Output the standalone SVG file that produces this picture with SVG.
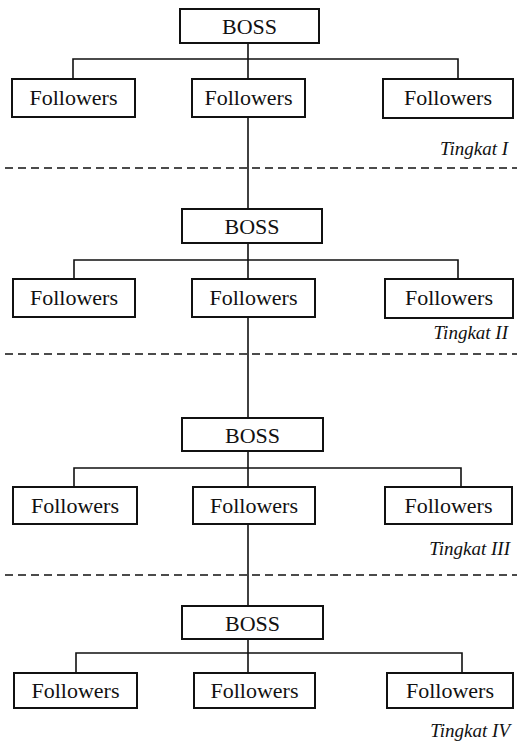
<svg xmlns="http://www.w3.org/2000/svg" width="522" height="742" viewBox="0 0 522 742">
<style>
.box{fill:#fff;stroke:#111;stroke-width:2}
.lbl{font-family:'Liberation Serif','DejaVu Serif',serif;font-size:22px;fill:#111;text-anchor:middle}
.lvl{font-family:'Liberation Serif','DejaVu Serif',serif;font-size:19px;font-style:italic;fill:#111;text-anchor:end}
.ln{stroke:#111;stroke-width:1.6;fill:none}
.dash{stroke:#111;stroke-width:1.6;stroke-dasharray:8 5;fill:none}
</style>
<rect width="522" height="742" fill="#fff"/>
<g id="connectors">
<path class="ln" d="M248 43V79M73 79V59H458V79"/>
<path class="ln" d="M248 117V209"/>
<path class="ln" d="M248 243V279M74 279V260H458V279"/>
<path class="ln" d="M248 317V418"/>
<path class="ln" d="M248 451V487M74 487V468H461V487"/>
<path class="ln" d="M248 524V606"/>
<path class="ln" d="M248 639V673M76 673V653H462V673"/>
</g>
<g id="levels">
<path class="dash" d="M5 168H517"/>
<path class="dash" d="M5 354H517"/>
<path class="dash" d="M5 575H517"/>
<text class="lvl" x="508" y="155" font-family="Liberation Serif">Tingkat I</text>
<text class="lvl" x="508" y="339" font-family="Liberation Serif">Tingkat II</text>
<text class="lvl" x="510" y="555" font-family="Liberation Serif">Tingkat III</text>
<text class="lvl" x="510" y="737" font-family="Liberation Serif">Tingkat IV</text>
</g>
<g id="boss1"><rect class="box" x="180" y="9" width="139" height="34"/><text class="lbl" x="249.5" y="34">BOSS</text></g>
<g id="f1a"><rect class="box" x="12" y="79" width="123" height="38"/><text class="lbl" x="73.5" y="105">Followers</text></g>
<g id="f1b"><rect class="box" x="192" y="79" width="113" height="38"/><text class="lbl" x="248.5" y="105">Followers</text></g>
<g id="f1c"><rect class="box" x="383" y="79" width="130" height="39"/><text class="lbl" x="448" y="105">Followers</text></g>
<g id="boss2"><rect class="box" x="182" y="209" width="140" height="34"/><text class="lbl" x="252" y="234">BOSS</text></g>
<g id="f2a"><rect class="box" x="13" y="279" width="122" height="38"/><text class="lbl" x="74" y="305">Followers</text></g>
<g id="f2b"><rect class="box" x="192" y="279" width="123" height="38"/><text class="lbl" x="253.5" y="305">Followers</text></g>
<g id="f2c"><rect class="box" x="385" y="279" width="128" height="39"/><text class="lbl" x="449" y="305">Followers</text></g>
<g id="boss3"><rect class="box" x="182" y="418" width="141" height="33"/><text class="lbl" x="252.5" y="443">BOSS</text></g>
<g id="f3a"><rect class="box" x="13" y="487" width="124" height="37"/><text class="lbl" x="75" y="513">Followers</text></g>
<g id="f3b"><rect class="box" x="193" y="487" width="122" height="37"/><text class="lbl" x="254" y="513">Followers</text></g>
<g id="f3c"><rect class="box" x="385" y="487" width="127" height="37"/><text class="lbl" x="448.5" y="513">Followers</text></g>
<g id="boss4"><rect class="box" x="182" y="606" width="141" height="33"/><text class="lbl" x="252.5" y="631">BOSS</text></g>
<g id="f4a"><rect class="box" x="14" y="673" width="123" height="35"/><text class="lbl" x="75.5" y="698">Followers</text></g>
<g id="f4b"><rect class="box" x="194" y="673" width="121" height="35"/><text class="lbl" x="254.5" y="698">Followers</text></g>
<g id="f4c"><rect class="box" x="387" y="673" width="126" height="35"/><text class="lbl" x="450" y="698">Followers</text></g>
</svg>
